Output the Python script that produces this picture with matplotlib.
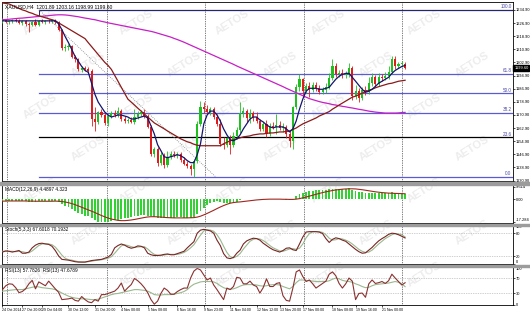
import matplotlib
matplotlib.use("Agg")
import matplotlib.pyplot as plt
from matplotlib.patches import Rectangle
import matplotlib.transforms as mtrans

plt.rcParams['font.family'] = ['Liberation Sans', 'DejaVu Sans']

# ---------------- data ----------------
title = "XAUUSD,H4  1201.89 1203.16 1198.99 1199.60"

opens = [1228.3,1228.9,1227.6,1228.3,1228.9,1228.3,1227.0,1228.3,1226.4,1225.8,
         1227.6,1225.8,1228.3,1227.6,1228.3,1228.0,1228.9,1227.6,1222.8,1211.9,
         1212.5,1213.1,1205.9,1204.7,1198.0,1199.2,1198.6,1197.4,1168.4,1166.6,
         1172.6,1170.8,1166.0,1170.2,1172.0,1170.8,1173.2,1168.4,1167.2,1167.8,
         1166.6,1169.6,1171.4,1172.6,1170.2,1163.6,1147.2,1150.3,1141.8,1146.6,
         1140.6,1145.4,1147.2,1146.6,1147.2,1143.6,1141.2,1140.0,1138.2,1143.0,
         1165.4,1175.6,1174.4,1172.6,1174.4,1169.6,1165.4,1153.3,1152.7,1156.9,
         1152.7,1158.1,1161.7,1172.0,1173.2,1169.0,1172.0,1169.6,1167.2,1162.4,
         1165.4,1159.3,1164.2,1163.6,1164.8,1163.0,1163.6,1159.3,1155.1,1175.6,
         1187.7,1192.6,1185.3,1188.3,1185.9,1189.0,1187.1,1184.7,1185.9,1187.7,
         1193.2,1200.4,1195.6,1196.2,1195.0,1195.6,1199.2,1182.3,1185.3,1181.1,
         1185.9,1184.7,1190.2,1193.8,1189.6,1193.8,1193.2,1194.4,1196.8,1204.7,
         1200.4,1201.7,1201.89]
highs = [1230.1,1229.5,1228.9,1229.5,1230.1,1229.5,1228.9,1228.9,1227.6,1228.3,
         1229.5,1228.9,1229.5,1228.9,1229.5,1229.5,1229.5,1228.3,1223.4,1214.3,
         1214.3,1213.7,1207.1,1205.3,1200.4,1200.4,1199.8,1198.6,1175.6,1173.2,
         1174.4,1172.0,1171.4,1173.2,1173.8,1175.6,1174.4,1170.2,1169.0,1169.6,
         1174.4,1173.2,1173.8,1174.4,1171.4,1164.8,1151.5,1151.5,1148.4,1147.8,
         1149.0,1149.0,1149.0,1148.4,1148.4,1145.4,1143.0,1141.2,1144.2,1167.2,
         1179.3,1178.7,1176.8,1175.6,1175.6,1171.4,1168.4,1157.5,1157.5,1158.7,
         1160.5,1163.6,1178.7,1175.6,1174.4,1174.4,1173.2,1172.6,1168.4,1166.6,
         1167.8,1166.0,1166.6,1171.4,1167.2,1166.0,1164.8,1161.1,1176.2,1189.6,
         1195.6,1193.2,1190.2,1190.8,1190.8,1190.8,1189.0,1187.7,1190.2,1196.2,
         1204.7,1202.3,1198.0,1198.6,1197.4,1202.3,1200.4,1189.0,1187.1,1187.7,
         1188.3,1193.8,1196.2,1195.0,1196.2,1195.6,1196.8,1200.4,1206.5,1206.5,
         1202.9,1203.5,1203.16]
lows = [1227.0,1227.0,1226.4,1227.0,1227.6,1226.4,1225.8,1225.2,1221.6,1225.2,
        1225.2,1225.2,1227.0,1226.4,1227.0,1227.0,1226.4,1222.2,1210.7,1210.1,
        1210.7,1205.3,1202.9,1197.4,1196.8,1197.4,1196.2,1164.2,1161.1,1165.4,
        1169.6,1164.8,1164.2,1169.0,1169.6,1169.6,1167.2,1166.0,1166.0,1166.0,
        1165.4,1168.4,1170.2,1169.0,1163.0,1146.0,1145.4,1140.0,1140.6,1138.8,
        1139.4,1144.2,1145.4,1144.8,1142.4,1140.6,1138.8,1134.5,1133.3,1141.8,
        1164.2,1172.0,1171.4,1170.8,1168.4,1164.2,1152.1,1150.3,1151.5,1147.2,
        1151.5,1156.3,1159.9,1169.6,1166.6,1166.0,1167.2,1166.0,1161.1,1161.1,
        1157.5,1158.1,1162.4,1159.3,1161.7,1160.5,1156.9,1151.5,1150.3,1174.4,
        1185.3,1182.9,1184.1,1181.7,1184.7,1185.3,1183.5,1183.5,1184.1,1186.5,
        1191.9,1193.8,1193.8,1193.2,1193.2,1193.8,1179.9,1180.5,1178.7,1179.9,
        1182.9,1183.5,1188.3,1187.7,1188.3,1191.4,1191.9,1192.6,1195.6,1198.6,
        1199.2,1199.8,1198.99]
closes = [1228.9,1227.6,1228.3,1228.9,1228.3,1227.0,1228.3,1226.4,1225.8,1227.6,
          1225.8,1228.3,1227.6,1228.3,1228.0,1228.9,1227.6,1222.8,1211.9,1212.5,
          1213.1,1205.9,1204.7,1198.6,1199.2,1198.6,1197.4,1168.4,1166.6,1172.6,
          1170.8,1166.0,1170.2,1172.0,1170.8,1173.2,1168.4,1167.2,1167.8,1166.6,
          1169.6,1171.4,1172.6,1170.2,1163.6,1147.2,1150.3,1141.8,1146.6,1140.6,
          1145.4,1147.2,1146.6,1147.2,1143.6,1141.2,1140.0,1138.2,1143.0,1165.4,
          1175.6,1174.4,1172.6,1174.4,1169.6,1165.4,1153.3,1152.7,1156.9,1152.7,
          1158.1,1161.7,1172.0,1173.2,1169.0,1172.0,1169.6,1167.2,1162.4,1165.4,
          1159.3,1164.2,1163.6,1164.8,1163.0,1163.6,1159.3,1155.1,1175.6,1187.7,
          1192.6,1185.3,1188.3,1185.9,1189.0,1187.1,1184.7,1185.9,1187.7,1193.2,
          1200.4,1195.6,1196.2,1195.0,1195.6,1199.2,1182.3,1185.3,1181.1,1185.9,
          1184.7,1190.2,1193.8,1189.6,1193.8,1193.2,1194.4,1196.8,1204.7,1200.4,
          1201.7,1202.3,1199.60]

ma_fast = [1228.2]*17 + [
    1226.4,1222.8,1218.6,1214.9,1210.7,1206.5,1203.5,1200.4,1198.0,1196.8,
    1190.2,1183.5,1178.7,1175.6,1172.6,1170.8,1169.6,1170.2,1170.8,1170.8,
    1170.2,1169.6,1168.4,1168.4,1169.0,1169.6,1170.2,1169.0,1164.2,1159.3,
    1152.7,1149.1,1145.4,1144.8,1145.4,1146.0,1146.6,1146.0,1144.8,1143.0,
    1141.8,1141.8,1146.6,1153.3,1165.4,1170.8,1173.2,1173.2,1170.8,1167.2,
    1162.4,1158.7,1155.7,1155.1,1156.3,1158.7,1162.4,1165.4,1168.4,1169.6,
    1169.6,1167.8,1166.6,1164.8,1163.6,1163.0,1163.6,1163.6,1163.6,1162.4,
    1160.5,1162.4,1167.2,1174.4,1180.5,1185.3,1187.1,1187.1,1187.1,1186.5,
    1186.5,1187.1,1187.7,1190.2,1192.6,1194.4,1195.6,1196.2,1196.2,1193.8,
    1191.4,1188.9,1186.5,1184.7,1185.3,1186.5,1188.3,1190.2,1191.4,1192.6,
    1193.8,1196.2,1198.0,1199.2,1200.4,1201.0]
ma_mid = [1239.1,1238.8,1238.5,1237.6,1236.7,1235.8,1234.9,1234.3,1233.4,1232.8,
          1231.9,1231.3,1230.7,1230.1,1229.5,1228.9,1228.3,1227.0,1225.8,1224.6,
          1223.4,1222.2,1221.0,1219.8,1218.6,1217.4,1214.9,1212.5,1210.1,1207.7,
          1205.3,1202.9,1201.0,1198.6,1195.0,1191.4,1187.7,1184.1,1180.5,1178.7,
          1176.9,1175.0,1173.2,1171.4,1169.6,1167.8,1166.0,1164.8,1163.6,1162.4,
          1161.1,1159.9,1158.7,1157.5,1156.3,1155.4,1154.5,1153.9,1153.0,1152.4,
          1152.1,1152.1,1152.1,1152.1,1152.1,1152.1,1152.1,1153.3,1154.2,1155.1,
          1155.7,1156.3,1156.9,1157.5,1157.8,1158.1,1158.7,1159.0,1159.3,1159.3,
          1159.6,1159.9,1159.9,1160.2,1160.5,1160.5,1160.8,1161.1,1162.0,1162.9,
          1164.2,1165.4,1166.3,1167.2,1168.1,1169.0,1170.2,1171.1,1172.0,1172.9,
          1174.4,1175.6,1176.9,1178.1,1179.3,1180.5,1181.7,1182.3,1183.2,1184.1,
          1185.0,1185.9,1186.5,1187.4,1188.1,1188.7,1189.3,1189.9,1190.2,1190.8,
          1191.4,1191.7,1192.0]
ma_slow = [1228.9,1229.0,1229.2,1229.4,1229.6,1229.8,1229.9,1230.1,1230.3,1230.5,
           1230.7,1230.9,1231.0,1231.2,1231.4,1231.6,1231.8,1231.9,1231.9,1231.8,
           1231.6,1231.3,1231.0,1230.7,1230.3,1229.9,1229.6,1229.2,1228.9,1228.4,
           1227.9,1227.5,1227.0,1226.6,1226.2,1225.8,1225.4,1225.0,1224.6,1224.2,
           1223.8,1223.4,1223.0,1222.6,1222.2,1221.8,1221.3,1220.7,1220.1,1219.5,
           1218.9,1218.3,1217.5,1216.8,1216.0,1215.2,1214.3,1213.4,1212.5,1211.6,
           1210.7,1209.8,1208.9,1208.0,1207.1,1206.2,1205.3,1204.4,1203.5,1202.6,
           1201.7,1200.7,1199.8,1198.9,1198.0,1197.1,1196.2,1195.3,1194.4,1193.5,
           1192.6,1191.7,1190.8,1189.9,1189.0,1188.1,1187.1,1186.2,1185.3,1184.4,
           1183.5,1182.6,1181.7,1180.8,1180.2,1179.6,1179.0,1178.5,1178.1,1177.7,
           1177.2,1176.9,1176.5,1176.1,1175.8,1175.4,1175.1,1174.7,1174.3,1174.0,
           1173.6,1173.2,1172.9,1172.6,1172.4,1172.2,1172.0,1172.0,1172.0,1172.0,
           1172.1,1172.3,1172.4]

fib_high = 1234.9
fib_low = 1133.3
fib_levels = [100.0, 61.8, 50.0, 38.2, 23.6, 0.0]
fib_start_bar = 11.1
fib_end_bar = 64.5

macd_hist = [-1.2,-1.0,-0.9,-1.0,-1.1,-1.3,-1.2,-1.4,-1.7,-1.6,-1.7,-1.5,-1.4,-1.3,-1.2,-1.1,-1.2,
             -2.0,-3.5,-5.0,-6.0,-7.5,-9.0,-10.5,-11.5,-12.5,-13.0,
             -14.5,-16.0,-17.0,-17.3,-17.3,-17.0,-16.5,-16.0,-15.5,-15.0,
             -14.5,-14.0,-13.5,-13.0,-12.5,-12.0,-12.0,-12.3,-13.0,-13.5,
             -14.0,-14.3,-14.5,-14.5,-14.3,-14.0,-13.8,-13.8,-14.0,-14.0,
             -14.0,-13.5,-11.5,-9.0,-6.5,-4.5,-3.0,-2.0,-1.5,-2.0,
             -2.5,-2.5,-2.5,-2.2,-1.8,-0.8,0.0,0.2,0.5,0.6,
             0.6,0.3,0.2,0.0,0.0,0.1,0.1,0.0,0.0,-0.2,
             -0.8,0.5,2.5,4.5,5.2,6.0,6.4,6.8,7.0,7.0,
             7.0,7.2,7.6,8.3,8.3,8.3,8.3,8.3,8.4,7.2,
             6.5,5.8,5.3,5.0,4.9,4.9,4.7,4.8,4.7,4.7,
             4.8,5.3,5.2,5.1,5.0,4.49]
macd_signal = [-1.3,-1.3,-1.2,-1.2,-1.2,-1.2,-1.2,-1.2,-1.3,-1.3,-1.4,-1.4,-1.4,-1.4,-1.4,-1.4,-1.3,
               -1.4,-1.6,-2.0,-2.5,-3.2,-4.0,-5.0,-6.0,-7.0,-8.0,
               -9.0,-10.0,-11.2,-12.3,-13.3,-14.2,-15.0,-15.5,-16.0,-16.2,
               -16.2,-16.0,-15.7,-15.3,-14.8,-14.3,-13.8,-13.4,-13.2,-13.2,
               -13.3,-13.5,-13.7,-13.9,-14.0,-14.1,-14.1,-14.1,-14.1,-14.1,
               -14.0,-13.9,-13.5,-12.8,-11.8,-10.7,-9.5,-8.3,-7.0,-5.8,
               -4.7,-3.7,-2.9,-2.4,-2.1,-1.9,-1.6,-1.3,-1.0,-0.7,
               -0.4,-0.2,0.0,0.1,0.2,0.2,0.2,0.2,0.1,0.1,
               0.0,0.0,0.2,0.6,1.2,1.8,2.5,3.2,3.9,4.6,
               5.2,5.8,6.3,6.8,7.2,7.5,7.8,8.0,8.1,8.1,
               8.0,7.7,7.4,7.0,6.6,6.2,5.8,5.5,5.2,5.0,
               4.8,4.7,4.6,4.5,4.4,4.32]

stoch_k = [31,34,33,31,33,35,28,28,31,42, 49,53,54,52,51,46,35,21,12,11,
           10,8,6,5,5,5,7,9,10,11, 12,15,18,25,42,48,52,49,44,41,
           43,47,46,42,28,24,22,22,23,25, 26,24,24,27,30,33,42,50,58,80,
           88,90,88,86,80,62,48,27,16,14, 17,28,36,52,60,64,67,66,62,54,
           48,42,37,34,31,35,41,42,37,35, 52,70,83,84,84,84,83,79,66,56,
           64,68,66,62,59,52,45,38,32,28, 29,36,43,52,60,66,71,77,80,79,
           76,72,67.6]
stoch_d = [33,33,33,33,32,33,32,30,29,34, 41,48,52,53,52,50,44,34,23,15,
           11,10,8,6,5,5,6,7,9,10, 11,13,15,19,28,38,47,50,48,45,
           43,44,45,45,39,31,25,23,22,23, 25,25,25,25,27,30,35,42,50,63,
           75,86,89,88,85,76,63,46,30,19, 16,20,27,39,49,59,64,66,65,61,
           55,48,42,38,34,33,36,39,40,38, 41,52,68,79,84,84,84,82,76,67,
           62,63,66,65,62,58,52,45,38,33, 30,31,36,44,52,59,66,71,76,79,
           78,76,70.2]

rsi_main = [40,50,55,54,45,32,35,42,55,64, 42,60,55,50,62,52,42,33,14,15,
            16,18,12,10,22,14,8,6,14,10, 27,27,30,33,36,44,57,36,45,53,
            69,63,55,45,32,14,2,10,30,44, 38,28,28,35,40,44,44,70,88,95,
            91,78,65,70,52,40,27,14,44,40, 48,72,70,55,55,62,52,48,31,45,
            68,48,48,56,58,24,12,10,44,86, 91,74,61,65,55,44,50,56,62,80,
            86,76,56,44,55,70,62,14,30,31, 20,55,65,56,58,61,56,63,80,70,
            61,52,57.8]
rsi_ma = [36,37,38,39,40,40,40,42,44,46, 48,47,45,44,43,42,40,36,31,27,
          23,20,18,17,16,16,15,14,14,15, 18,21,24,27,29,30,32,34,36,38,
          40,40,39,38,36,32,27,26,26,27, 27,27,28,30,32,35,40,48,54,57,
          60,61,61,61,60,56,50,45,42,41, 42,45,49,52,53,53,53,52,50,49,
          50,52,53,53,52,48,45,42,48,58, 65,65,64,63,62,61,61,61,61,63,
          67,70,68,64,62,61,59,55,52,48, 45,46,50,53,54,55,56,57,59,61,
          59,55,47.7]

time_labels = ["24 Oct 2014", "27 Oct 20:00", "29 Oct 04:00", "30 Oct 12:00",
               "31 Oct 20:00", "4 Nov 00:00", "5 Nov 08:00", "6 Nov 16:00",
               "9 Nov 23:00", "11 Nov 04:00", "12 Nov 12:00", "13 Nov 20:00",
               "17 Nov 00:00", "18 Nov 08:00", "19 Nov 16:00", "21 Nov 00:00"]
time_label_bars = [0, 6, 12, 20, 28, 36, 44, 53, 61, 69, 77, 84, 91, 100, 107, 115]
week_separator_bars = [1.4, 31.6, 61.4, 91.4, 121.2]

price_ticks = [1234.9, 1226.9, 1218.9, 1210.9, 1202.9, 1194.9, 1186.9, 1178.9,
               1170.9, 1162.9, 1154.9, 1146.9, 1138.9, 1130.9]
last_price = 1199.60

n = len(closes)
assert all(len(a) == n for a in [opens, highs, lows, ma_fast, ma_mid, ma_slow,
                                  macd_hist, macd_signal, stoch_k, stoch_d, rsi_main, rsi_ma])
bars = list(range(n))

# ---------------- figure ----------------
W, H = 530, 314
fig = plt.figure(figsize=(W / 100, H / 100), dpi=100)
fig.patch.set_facecolor('white')

YFS = 2.9  # right-axis label size

# watermark (kept inside the picture)
for r, yy in enumerate(range(22, 300, 42)):
    off = (r % 2) * 48
    for xx in range(40 + off, 500, 96):
        fig.text(xx / W, 1 - yy / H, "AETOS", fontsize=8, fontweight='bold',
                 color='#ededed', rotation=32, ha='center', va='center', zorder=-5)

def ax_px(x0, y0, x1, y1):
    a = fig.add_axes([x0 / W, 1 - y1 / H, (x1 - x0) / W, (y1 - y0) / H])
    a.set_facecolor('none')
    a.set_xlim(-0.15, 154.7)
    a.yaxis.tick_right()
    a.tick_params(axis='y', labelsize=YFS, length=1.5, width=0.5, pad=0.6, colors='black')
    a.tick_params(axis='x', bottom=False, labelbottom=False)
    for s in a.spines.values():
        s.set_linewidth(0.6)
        s.set_color('black')
    for b in week_separator_bars:
        a.axvline(b, color='black', lw=0.5, ls=(0, (1, 1.5)), zorder=1)
    return a

ax = ax_px(2, 2, 513, 181)
ax_macd = ax_px(2, 185, 513, 223)
ax_st = ax_px(2, 225.5, 513, 264)
ax_rsi = ax_px(2, 266.5, 513, 305)

# separators (full width)
for y0, hh in [(181.6, 3.2), (223.8, 1.8), (264.8, 1.8)]:
    fig.patches.append(Rectangle((0, 1 - (y0 + hh) / H), 1, hh / H, transform=fig.transFigure,
                                 color='#9c9c9c', zorder=5))

# ---- main price panel ----
ax.set_ylim(1130.6, 1239.7)
ax.set_yticks(price_ticks)
ax.set_yticklabels([f"{p:.2f}" for p in price_ticks])

up_c, dn_c = '#1fbf1f', '#e01b1b'
for i in bars:
    o, h, l, c = opens[i], highs[i], lows[i], closes[i]
    col = up_c if c >= o else dn_c
    ax.vlines(i, l, h, color=col, lw=0.6, zorder=3)
    ax.bar(i, max(abs(c - o), 0.25), bottom=min(o, c), width=0.62, color=col,
           linewidth=0, zorder=4)

ax.plot(bars, ma_slow, color='#c71fc7', lw=0.9, zorder=5)
ax.plot(bars, ma_mid, color='#8b1a1a', lw=0.9, zorder=5)
ax.plot(bars, ma_fast, color='#14146e', lw=0.9, zorder=6)

fib_colors = {100.0: '#26266e', 61.8: '#5a5ad2', 50.0: '#5a5ad2', 38.2: '#5a5ad2',
              23.6: '#000000', 0.0: '#5a5ad2'}
blend = mtrans.blended_transform_factory(ax.transAxes, ax.transData)
for lv in fib_levels:
    p = fib_low + lv / 100.0 * (fib_high - fib_low)
    ax.plot([fib_start_bar, 154.7], [p, p], color=fib_colors[lv], lw=0.9, zorder=2)
    ax.text(0.997, p + 0.4, f"{lv:.1f}", transform=blend,
            ha='right', va='bottom', fontsize=3.3, color='#4a4aa8', zorder=7)
ax.plot([fib_start_bar, fib_start_bar], [fib_high, fib_high - 3], color='#26266e', lw=0.7)
ax.plot([fib_start_bar, fib_end_bar], [fib_high, fib_low], color='#808080', lw=0.6,
        ls=(0, (1, 1.5)), zorder=2)

ax.text(0.006, 0.985, title, transform=ax.transAxes, fontsize=3.6, va='top', ha='left',
        color='black', zorder=8)
ax.text(1.0025, last_price, f"{last_price:.2f}", transform=blend,
        ha='left', va='center', fontsize=YFS, color='white', zorder=9, clip_on=False,
        bbox=dict(boxstyle='square,pad=0.2', fc='black', ec='black'))

# ---- MACD ----
ax_macd.set_ylim(-18.0, 11.0)
ax_macd.bar(bars, macd_hist, width=0.55, color='#33d133', linewidth=0, zorder=3)
ax_macd.plot(bars, macd_signal, color='#a0261e', lw=0.8, zorder=4)
ax_macd.set_yticks([9.614, 0.0, -17.284])
ax_macd.set_yticklabels(["9.614", "0.00", "-17.284"])
ax_macd.get_yticklabels()[2].set_va('bottom')
ax_macd.text(0.006, 0.96, "MACD(12,26,9) 4.4897 4.323", transform=ax_macd.transAxes,
             fontsize=3.4, va='top', ha='left')

# ---- Stochastic ----
ax_st.set_ylim(0, 100)
ax_st.axhline(80, color='#a0a0a0', lw=0.5, ls=(0, (1, 1.5)))
ax_st.axhline(20, color='#a0a0a0', lw=0.5, ls=(0, (1, 1.5)))
ax_st.plot(bars, stoch_d, color='#9ab890', lw=0.8, zorder=3)
ax_st.plot(bars, stoch_k, color='#7a2424', lw=0.8, zorder=4)
ax_st.set_yticks([100, 80, 20, 0])
ax_st.set_yticklabels(["100", "80", "20", "0"])
ax_st.get_yticklabels()[0].set_va('top')
ax_st.get_yticklabels()[3].set_va('bottom')
ax_st.text(0.006, 0.96, "Stoch(5,3,3) 67.6018 70.1932", transform=ax_st.transAxes,
           fontsize=3.4, va='top', ha='left')

# ---- RSI ----
ax_rsi.set_ylim(0, 100)
ax_rsi.axhline(70, color='#a0a0a0', lw=0.5, ls=(0, (1, 1.5)))
ax_rsi.axhline(30, color='#a0a0a0', lw=0.5, ls=(0, (1, 1.5)))
ax_rsi.plot(bars, rsi_ma, color='#9ab890', lw=0.8, zorder=3)
ax_rsi.plot(bars, rsi_main, color='#8b3030', lw=0.8, zorder=4)
ax_rsi.set_yticks([100, 70, 30, 0])
ax_rsi.set_yticklabels(["100", "70", "30", "0"])
ax_rsi.get_yticklabels()[0].set_va('top')
ax_rsi.text(0.006, 0.96, "RSI(13) 57.7826  RSI(13) 47.6789", transform=ax_rsi.transAxes,
            fontsize=3.4, va='top', ha='left')

ax_rsi.tick_params(axis='x', bottom=True, labelbottom=True, labelsize=2.5, length=1.5,
                   width=0.5, pad=1)
ax_rsi.set_xticks(time_label_bars)
ax_rsi.set_xticklabels(time_labels)
for t in ax_rsi.get_xticklabels():
    t.set_ha('left')

fig.savefig("out.png", dpi=100)
